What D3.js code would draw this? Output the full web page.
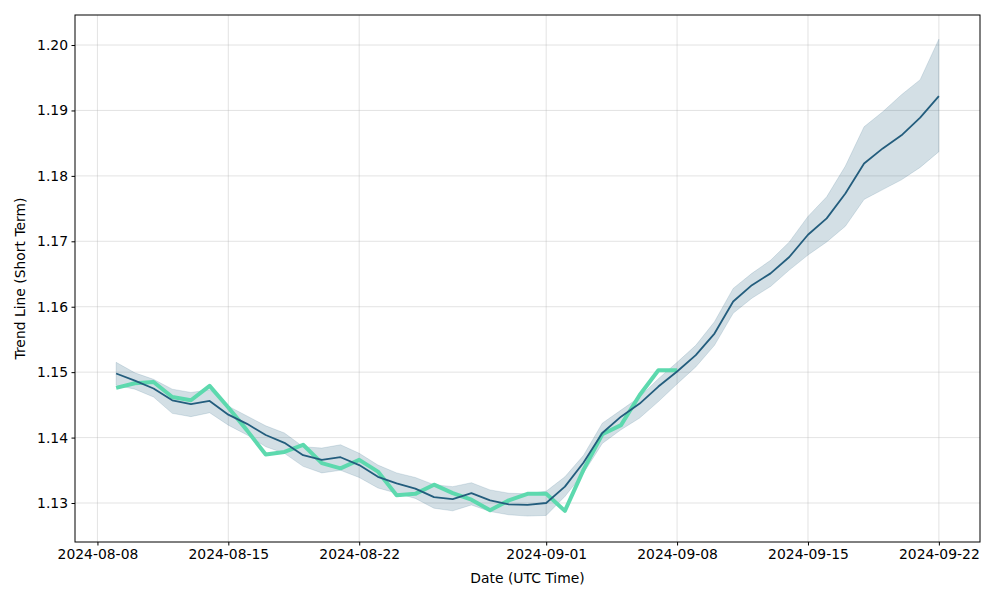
<!DOCTYPE html>
<html><head><meta charset="utf-8">
<script src="https://cdn.jsdelivr.net/npm/d3@7"></script>
<style>
body{margin:0;background:#fff;}
svg{display:block;font-family:"DejaVu Sans",sans-serif;}
</style></head>
<body><svg id="c" width="1000" height="600"></svg>
<script>
const startDate = "2024-08-09";
const trend = [1.1498,1.1487,1.1475,1.1457,1.1451,1.1456,1.1435,1.1421,1.1404,1.1392,1.1373,1.1366,1.1370,1.1358,1.1340,1.1330,1.1322,1.1309,1.1306,1.1315,1.1304,1.1298,1.1297,1.1300,1.1325,1.1362,1.1407,1.1432,1.1452,1.1478,1.1501,1.1526,1.1559,1.1608,1.1633,1.1651,1.1676,1.1710,1.1735,1.1773,1.1819,1.1842,1.1862,1.1889,1.1922];
const lower = [1.1480,1.1474,1.1462,1.1437,1.1432,1.1438,1.1419,1.1404,1.1386,1.1376,1.1356,1.1346,1.1350,1.1339,1.1323,1.1315,1.1307,1.1292,1.1288,1.1297,1.1287,1.1282,1.1280,1.1281,1.1310,1.1346,1.1391,1.1412,1.1430,1.1455,1.1482,1.1508,1.1541,1.1590,1.1613,1.1631,1.1656,1.1679,1.1699,1.1723,1.1764,1.1779,1.1794,1.1813,1.1837];
const upper = [1.1515,1.1499,1.1489,1.1474,1.1469,1.1473,1.1448,1.1433,1.1418,1.1407,1.1386,1.1384,1.1389,1.1376,1.1358,1.1346,1.1339,1.1328,1.1325,1.1331,1.1320,1.1315,1.1314,1.1318,1.1340,1.1373,1.1422,1.1442,1.1462,1.1490,1.1515,1.1541,1.1577,1.1628,1.1651,1.1671,1.1699,1.1738,1.1768,1.1815,1.1875,1.1898,1.1924,1.1947,1.2009];
const actual = [1.1476,1.1483,1.1485,1.1462,1.1457,1.1479,1.1446,1.1411,1.1374,1.1378,1.1389,1.1361,1.1353,1.1366,1.1348,1.1312,1.1314,1.1328,1.1315,1.1305,1.1289,1.1304,1.1314,1.1314,1.1288,1.1351,1.1405,1.1419,1.1465,1.1503,1.1503];
const xTickLabels = ["2024-08-08","2024-08-15","2024-08-22","2024-09-01","2024-09-08","2024-09-15","2024-09-22"];
const yTickLabels = ["1.13","1.14","1.15","1.16","1.17","1.18","1.19","1.20"];

const svg = d3.select("#c");
const L=75, R=980, T=15, B=542;
const t0 = new Date(startDate+"T00:00:00Z");
const dates = trend.map((_,i)=>d3.utcDay.offset(t0,i));
const span = dates[dates.length-1]-dates[0];
const x = d3.scaleUtc().domain([new Date(+dates[0]-span*0.05), new Date(+dates[dates.length-1]+span*0.05)]).range([L,R]);
const y = d3.scaleLinear().domain([1.12404,1.20459]).range([B,T]);

const xTicks = xTickLabels.map(s=>new Date(s+"T00:00:00Z"));
const yTicks = yTickLabels.map(Number);

const g = svg.append("g");
g.selectAll(".vg").data(xTicks).join("line").attr("x1",d=>x(d)).attr("x2",d=>x(d)).attr("y1",T).attr("y2",B).attr("stroke","#b0b0b0").attr("stroke-opacity",0.45).attr("stroke-width",0.8);
g.selectAll(".hg").data(yTicks).join("line").attr("y1",d=>y(d)).attr("y2",d=>y(d)).attr("x1",L).attr("x2",R).attr("stroke","#b0b0b0").attr("stroke-opacity",0.45).attr("stroke-width",0.8);

const col = "#235d7d";
const area = d3.area().x((d,i)=>x(dates[i])).y0((d,i)=>y(lower[i])).y1((d,i)=>y(upper[i]));
svg.append("path").datum(trend).attr("d",area).attr("fill",col).attr("fill-opacity",0.2).attr("stroke",col).attr("stroke-opacity",0.15).attr("stroke-width",1);

const lineA = d3.line().x((d,i)=>x(dates[i])).y(d=>y(d));
svg.append("path").datum(actual).attr("d",lineA).attr("fill","none").attr("stroke","#5dd9ae").attr("stroke-width",4).attr("stroke-linejoin","round");
svg.append("path").datum(trend).attr("d",lineA).attr("fill","none").attr("stroke",col).attr("stroke-width",1.8).attr("stroke-linejoin","round");

svg.append("rect").attr("x",L).attr("y",T).attr("width",R-L).attr("height",B-T).attr("fill","none").attr("stroke","#000").attr("stroke-width",1);

const xa = svg.append("g").attr("transform",`translate(0,${B})`)
  .call(d3.axisBottom(x).tickValues(xTicks).tickFormat((d,i)=>xTickLabels[i]).tickSize(3.5).tickPadding(3.5));
const ya = svg.append("g").attr("transform",`translate(${L},0)`)
  .call(d3.axisLeft(y).tickValues(yTicks).tickFormat((d,i)=>yTickLabels[i]).tickSize(3.5).tickPadding(3.5));
[xa,ya].forEach(a=>{a.select(".domain").remove();a.selectAll("text").attr("font-family","DejaVu Sans").attr("font-size",13.9).attr("fill","#000");a.selectAll("line").attr("stroke","#000");});

svg.append("text").attr("x",(L+R)/2).attr("y",583).attr("text-anchor","middle").attr("font-size",13.9).attr("fill","#000").text("Date (UTC Time)");
svg.append("text").attr("transform",`translate(25,${(T+B)/2}) rotate(-90)`).attr("text-anchor","middle").attr("font-size",13.9).attr("fill","#000").text("Trend Line (Short Term)");
</script></body></html>
